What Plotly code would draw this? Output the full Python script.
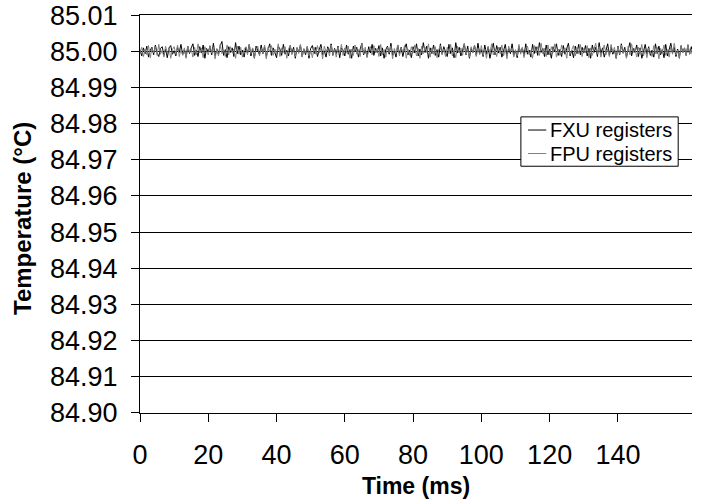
import plotly.graph_objects as go

# Sampling of the recorded traces
TIME_STEP_MS = 0.5

# Temperature deviation from 85.00 °C, in units of 0.00016 °C
FXU_DEV = [
    3,-8,6,-4,9,-10,2,7,-6,11,-3,-9,5,8,-7,4,-11,6,10,-5,
    1,-8,7,-2,12,-6,3,-10,9,-4,6,13,-7,2,-9,8,-3,11,-12,5,
    -1,9,-6,14,-8,4,-5,10,17,-7,3,-11,8,-2,6,-9,15,-4,9,-6,
    2,-10,7,-3,12,-8,5,-12,9,0,-6,11,-4,8,-9,3,13,-7,6,-2,
    -11,9,4,-7,12,-5,2,-8,10,-3,7,-12,6,-1,11,-9,4,-6,8,-12,
    5,10,-4,7,-9,3,12,-6,1,-10,8,-2,13,-7,5,-4,9,-11,6,2,
    -8,11,-5,3,-12,9,-1,7,-10,4,14,-6,2,-9,8,-3,12,-7,5,-2,
    10,-8,6,-12,3,9,-5,14,-7,1,-10,11,-4,7,-9,5,13,-6,2,-11,
    8,-3,13,-8,4,-6,15,-2,9,-12,6,-4,11,-7,3,-10,13,-5,8,-1,
    -9,12,-4,6,-11,15,-3,7,-8,2,13,-6,9,-12,5,-2,10,-7,14,-4,
    3,-9,11,-5,8,-12,4,14,-6,10,-3,7,-10,2,12,-8,5,-4,13,-7,
    1,-11,9,-3,6,-8,13,-5,2,-10,12,-4,8,-7,15,-2,5,-9,11,-6,
    4,-12,8,-1,13,-7,3,-9,10,-5,6,14,-8,2,-11,9,-4,12,-6,7,
    -3,10,-8,5,-12,11,-2,7,-9,15,-4,6,-10,3,13,-7,8,-5,2,-12,
    9,-6,13,-3,7,-10,4,15,-8,5,-2,11,-9,6,-12,3,12,-5,8,-7,
    2,-10,13,-4,9,-6,3,-11,12,-8,5,14,-3,7,-9,4,-12,10,-2,6,
    -7,11,-5,8,-12,3,13,-6,9,-3,6,-10,13,-4,7,-8,2,14,-5,9,
]

FPU_DEV = [
    -2,7,-9,4,-6,10,-11,5,-3,8,-7,12,-5,2,-10,9,-4,6,-12,3,
    8,-5,11,-9,3,-7,6,-12,9,-2,4,-10,7,-6,13,-3,5,-11,8,-1,
    -6,10,-3,7,-13,5,-8,12,-4,2,-9,11,-6,8,-2,4,-12,9,-5,7,
    -10,3,8,-6,12,-4,6,-11,2,9,-8,5,-3,11,-13,7,-1,10,-7,4,
    -5,13,-9,6,-2,8,-12,4,10,-6,3,-9,7,-4,12,-10,5,-3,9,-8,
    2,-11,7,-5,10,-3,6,-13,9,-1,5,-8,11,-6,3,-10,8,-4,12,-7,
    6,-2,9,-12,4,-7,11,-5,3,-9,14,-4,7,-11,2,8,-6,10,-3,5,
    -9,12,-6,3,-10,7,-2,9,-13,5,-4,11,-8,6,-1,10,-12,4,-7,8,
    -3,11,-8,5,-12,9,-4,7,-2,13,-10,6,-5,8,-11,3,10,-6,4,-9,
    7,-4,12,-8,2,-11,9,-3,6,-7,14,-5,3,-10,8,-2,11,-9,5,-6,
    10,-7,4,-12,8,-3,13,-6,2,-9,7,-4,11,-8,5,-13,9,-1,6,-10,
    3,-8,12,-5,7,-11,4,9,-6,2,-12,10,-3,8,-7,14,-4,5,-9,11,
    -6,8,-2,13,-10,4,-7,11,-3,6,-12,9,-5,3,10,-8,7,-4,12,-9,
    5,-3,10,-11,6,-7,3,14,-5,8,-10,2,11,-6,4,-9,12,-2,7,-13,
    8,-5,11,-4,3,-12,9,-6,13,-2,5,-10,7,-3,12,-8,4,-11,6,-1,
    -9,10,-4,7,-13,5,-2,11,-7,3,-10,8,-5,14,-6,2,-11,9,-3,6,
    -8,12,-5,4,-11,7,-3,10,-6,13,-9,2,-4,11,-7,5,-12,8,-2,9,
]

BASE_TEMP = 85.0
DEV_UNIT = 0.00016

SERIES_NAMES = ["FXU registers", "FPU registers"]
SERIES_COLORS = ["#000000", "#808080"]

X_TICKS = [0, 20, 40, 60, 80, 100, 120, 140]
Y_TICKS = [84.90, 84.91, 84.92, 84.93, 84.94, 84.95, 84.96, 84.97, 84.98, 84.99, 85.00, 85.01]

time_fxu = [i * TIME_STEP_MS for i in range(len(FXU_DEV))]
time_fpu = [i * TIME_STEP_MS for i in range(len(FPU_DEV))]
temp_fxu = [BASE_TEMP + d * DEV_UNIT for d in FXU_DEV]
temp_fpu = [BASE_TEMP + d * DEV_UNIT for d in FPU_DEV]

FONT = "Liberation Sans, Arial, sans-serif"

fig = go.Figure()
fig.add_trace(go.Scatter(x=time_fxu, y=temp_fxu, mode="lines", name=SERIES_NAMES[0],
                         line=dict(color=SERIES_COLORS[0], width=1), showlegend=False))
fig.add_trace(go.Scatter(x=time_fpu, y=temp_fpu, mode="lines", name=SERIES_NAMES[1],
                         line=dict(color=SERIES_COLORS[1], width=1), showlegend=False))

# Legend box (drawn in paper coordinates)
LEG_X0, LEG_X1 = 0.690, 0.975
LEG_Y0, LEG_Y1 = 0.620, 0.744
LEG_ROWS_Y = [0.711, 0.652]
LEG_LINE_X = [0.703, 0.736]
LEG_TEXT_X = 0.740

fig.add_shape(type="rect", xref="paper", yref="paper",
              x0=LEG_X0, x1=LEG_X1, y0=LEG_Y0, y1=LEG_Y1,
              line=dict(color="black", width=1), fillcolor="white", layer="above")
for name, color, ry in zip(SERIES_NAMES, SERIES_COLORS, LEG_ROWS_Y):
    fig.add_shape(type="line", xref="paper", yref="paper",
                  x0=LEG_LINE_X[0], x1=LEG_LINE_X[1], y0=ry, y1=ry,
                  line=dict(color=color, width=1), layer="above")
    fig.add_annotation(xref="paper", yref="paper", x=LEG_TEXT_X, y=ry,
                       xanchor="left", yanchor="middle", showarrow=False,
                       text=name, font=dict(size=20, family=FONT, color="black"))

# Y axis title as rotated text
fig.add_annotation(xref="paper", yref="paper", x=-0.212, y=0.49,
                   xanchor="center", yanchor="middle", showarrow=False, textangle=-90,
                   text="<b>Temperature (°C)</b>", font=dict(size=24, family=FONT, color="black"))

fig.update_layout(
    width=709, height=504,
    margin=dict(l=140, r=17, t=15, b=91),
    paper_bgcolor="white", plot_bgcolor="white",
    font=dict(family=FONT, color="black"),
    showlegend=False,
    xaxis=dict(
        range=[0, 161.7], tickvals=X_TICKS, ticktext=[str(v) for v in X_TICKS],
        ticks="outside", ticklen=8, tickcolor="black",
        showline=True, linecolor="black", linewidth=1, mirror=True,
        showgrid=False, zeroline=False, automargin=False,
        tickfont=dict(size=27, family=FONT), ticklabelstandoff=10,
        title=dict(text="<b>Time (ms)</b>", font=dict(size=23, family=FONT), standoff=8),
    ),
    yaxis=dict(
        range=[84.89995, 85.01005], tickvals=Y_TICKS, ticktext=[f"{v:.2f}" for v in Y_TICKS],
        ticks="outside", ticklen=8, tickcolor="black",
        showline=True, linecolor="black", linewidth=1,
        showgrid=True, gridcolor="black", gridwidth=1, zeroline=False, automargin=False,
        tickfont=dict(size=27, family=FONT), ticklabelstandoff=8,
    ),
)

fig.write_html("out.html")
